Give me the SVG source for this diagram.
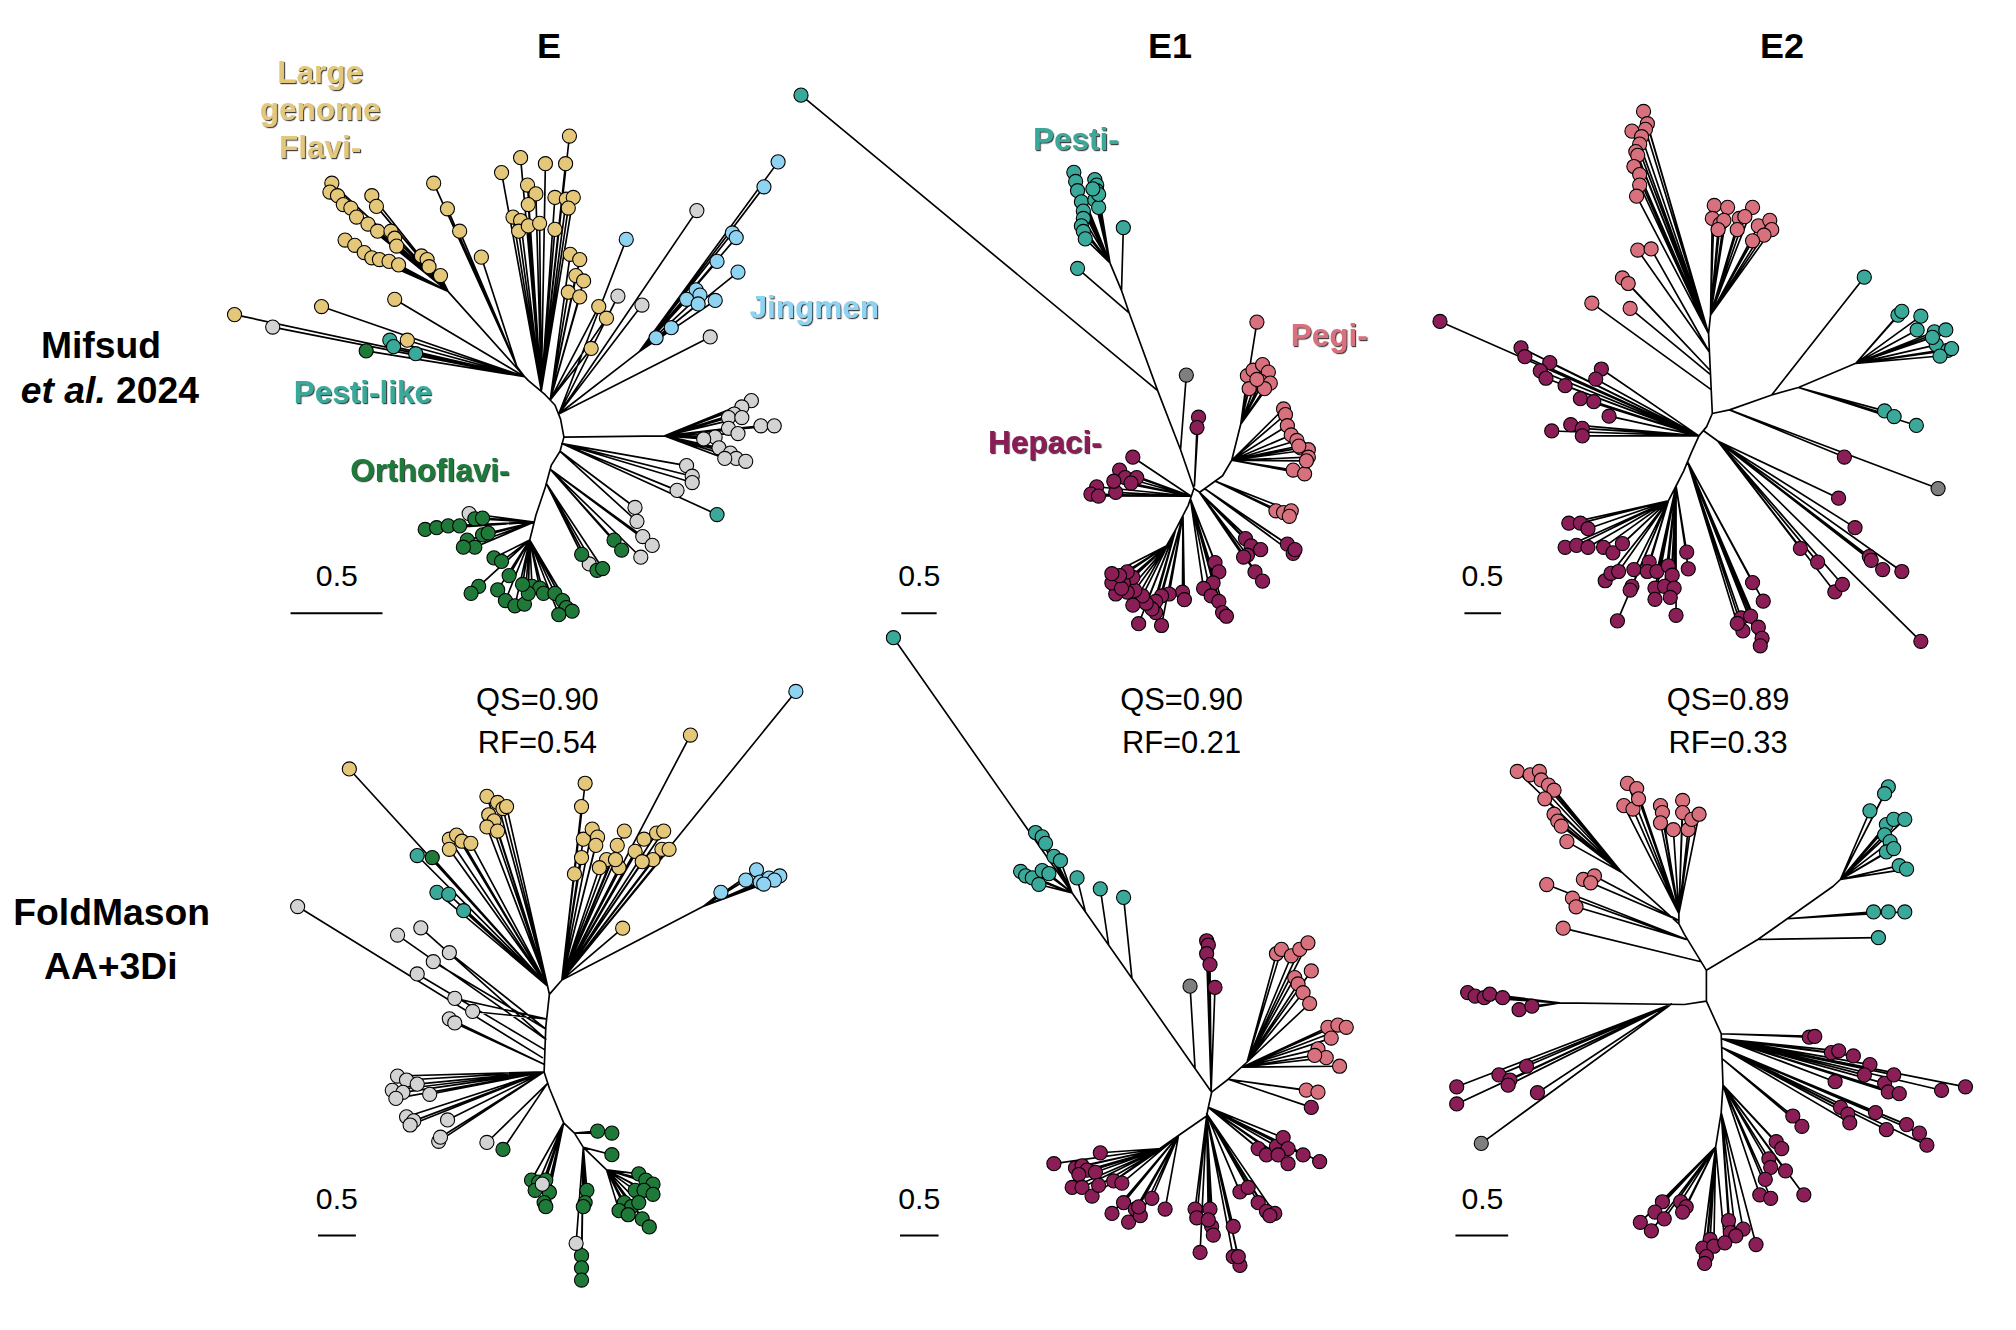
<svg xmlns="http://www.w3.org/2000/svg" width="2016" height="1330" viewBox="0 0 2016 1330">
<style>
.b{fill:none;stroke:#000;stroke-width:1.3;stroke-linecap:round;stroke-linejoin:round}
circle{stroke:#000;stroke-width:0.85}
.a{fill:#E5C77A}.u{fill:#8ED3F2}.g{fill:#D3D3D3}.t{fill:#3BA99A}.d{fill:#1F7A3A}.p{fill:#D8707D}.m{fill:#8B1E57}.k{fill:#7F7F7F}
text{font-family:"Liberation Sans",Arial,Helvetica,sans-serif}
.ttl{font-size:28px;font-weight:bold;text-anchor:middle}
.row{font-size:29px;font-weight:bold;text-anchor:middle}
.lab{font-size:24.5px;font-weight:bold;filter:url(#sh)}
.num{font-size:24px;text-anchor:middle}
.sc{font-size:23.5px;text-anchor:middle}
.bar{stroke:#000;stroke-width:1.5}
</style>
<defs>
<filter id="sh" x="-5%" y="-10%" width="115%" height="130%"><feDropShadow dx="0.9" dy="0.9" stdDeviation="0.35" flood-color="#1a1a1a" flood-opacity="0.85"/></filter>
</defs>
<rect width="2016" height="1330" fill="#fff"/>
<g transform="scale(1.285714)">
<g id="titles">
<text class="ttl" x="427" y="45.5">E</text>
<text class="ttl" x="910" y="45.5">E1</text>
<text class="ttl" x="1386" y="45.5">E2</text>
<text class="row" x="78.5" y="278.5">Mifsud</text>
<text class="row" x="85.5" y="313.6"><tspan font-style="italic">et al.</tspan> 2024</text>
<text class="row" x="86.8" y="719.5">FoldMason</text>
<text class="row" x="86.2" y="761.7">AA+3Di</text>
</g>
<g id="connectors">
<path id="br-tl" class="b" d="M411,296L424,307L431.6,315L436,326L438.6,340L435.6,351L428.7,362L424.2,378.7L416.8,400.8L413.8,413L412,420M402,285L408,293L411,296M348.6,226.8L408,293M434.6,322L497,273.7M438.6,340L517,339
M408,293L182.4,244.7M408,293L212.1,254.4M408,293L250.1,238.4M408,293L307,232.8M408,293L284.8,272.9M408,293L303.2,264.6M408,293L306.1,269.6M408,293L316.8,264.6M408,293L323.3,275.1
M348.6,226.8L258.1,142.5M348.6,226.8L256.6,149.4M348.6,226.8L262.5,152.2M348.6,226.8L267,159.1M348.6,226.8L272.9,161.8M348.6,226.8L277.3,168.8M348.6,226.8L286.2,174.3M348.6,226.8L293.7,179.8M348.6,226.8L304.1,179.8M348.6,226.8L307,185.3M348.6,226.8L308.5,191.4M348.6,226.8L268.4,186.7M348.6,226.8L275.9,190.8M348.6,226.8L283.3,196.4M348.6,226.8L289.2,200.5M348.6,226.8L295.1,201.9M348.6,226.8L302.6,203.3M348.6,226.8L310,206M348.6,226.8L289.2,152.2M348.6,226.8L292.8,160.5M348.6,226.8L327.8,199.1M348.6,226.8L332.2,201.9M348.6,226.8L333.7,207.4M348.6,226.8L342.6,214.3
M402,285L337.3,142.5M402,285L348,162.4M402,285L357.5,179.8M402,285L374.4,200
M421,304L390.1,134.2M421,304L404.9,122.6M421,304L410.3,143.9M421,304L416.8,150.8M421,304L410.9,159.1M421,304L399,168.8M421,304L404.9,171.5M421,304L403.4,179.8M421,304L410.9,175.7M421,304L419.7,173.7M421,304L431.6,178.4M421,304L424.2,127.3M421,304L439.9,127.3M421,304L442.9,105.8M421,304L431.6,153.6M421,304L440.5,154.9M421,304L445.9,153.6M421,304L442,161.8
M428,311L443.5,197.8M428,311L450.9,201.9M428,311L447.9,214.3M428,311L453.9,218.5M428,311L442,227.3M428,311L450.9,230.9M428,311L465.7,238.4M428,311L471.7,247.5M428,311L459.8,271
M434.6,322L480.6,230.3M434.6,322L499.3,237.3M434.6,322L542,163.8M434.6,322L552.4,262.1M434.6,322L487.1,186.2
M497,273.7L605.2,125.9M497,273.7L594.2,145.3M497,273.7L569.6,181.2M497,273.7L572.6,184.8M497,273.7L557.7,203.3M497,273.7L574,211.6M497,273.7L541.4,225.4M497,273.7L544.4,229.5M497,273.7L534,232.8M497,273.7L543,236.4M497,273.7L556.3,233.7M497,273.7L522.1,254.9M497,273.7L510.3,262.7
M517,339L584.4,311.6M517,339L577,316.5M517,339L571.1,322M517,339L566.6,324.8M517,339L577,324.8M517,339L591.8,331.2M517,339L602.2,331.2M517,339L566.6,333.1M517,339L574,337.2M517,339L556.2,340M517,339L547.3,341.4M517,339L559.2,348.3M517,339L568.1,352.4M517,339L572.6,356.6M517,339L580,358.8M517,339L563.7,356.6
M437,345L534,362.1M437,345L538.4,370.4M437,345L538.4,375.3M437,345L526.6,381.4M437,345L557.7,400.2
M435.6,351L493.9,394.7M435.6,351L495.4,405.5M427.9,365L499.9,417.3M427.9,365L507.3,424.2M427.9,365L498.4,433.4M427.9,365L477.6,420.1M427.9,365L483.5,427.8M424.9,376L458.3,438.6M424.9,376L464.3,443.6M424.9,376L468.7,442.2M424.9,376L452.4,431.1
M415.5,406L364.9,399.4M415.5,406L330.7,411.8M415.5,406L339.6,410.4M415.5,406L348.6,409M415.5,406L357.5,409M415.5,406L369.3,403.5M415.5,406L375.3,403M415.5,406L363.4,420.1M415.5,406L369.3,425.6M415.5,406L375.3,416M415.5,406L379.7,414.6M415.5,406L360.4,425.6
M412,420L384.2,433.9M412,420L390.1,436.7M412,420L396,447.7M412,420L372.3,456M412,420L366.4,461.5M412,420L387.1,458.8M412,420L393.1,467.1M412,420L400.5,471.2M412,420L407.9,469.8M412,420L413.8,456M412,420L419.8,457.4M412,420L422.7,461.5M412,420L431.6,461.5M412,420L437.6,467.1M412,420L440.5,472.6M412,420L445,475.4M412,420L434.6,478.1M412,420L410.9,461.5M412,420L406.4,454.6"/>
<path id="br-tm" class="b" d="M623,74L900.4,303.8M928.6,380L918.2,349.8L900.4,303.8L878.2,243.3L872.3,226L863.3,204.5M878.2,243.3L838.1,208.8M872.3,226L873.7,177.1M918.2,349.8L922.7,291.7M929,378L932.2,324.5M929,378L931,332.5M928.6,380L933.1,382.9L950.9,370L958,358L965,330M928.6,380L924.2,393L906.4,427.5
M863.3,204.5L835.2,134M863.3,204.5L836.6,141.1M863.3,204.5L838.1,148.3M863.3,204.5L841.1,157M863.3,204.5L842.6,164.2M863.3,204.5L842.6,169.9M863.3,204.5L841.1,175.7M863.3,204.5L842.6,180M863.3,204.5L844.1,185.8M863.3,204.5L851.5,139.7M863.3,204.5L853,144M863.3,204.5L853,148.3M863.3,204.5L851.5,155.5M863.3,204.5L854.5,161.3M863.3,204.5L854.5,151.2M863.3,204.5L850,146.9
M965,330L970.2,292.2M965,330L974.6,287.9M965,330L982,283.6M965,330L986.5,289.4M965,330L980.5,296.6M965,330L988,298M965,330L983.5,302.3M965,330L971.6,302.3M965,330L977.6,295.1M965,330L977.6,250.5
M958,358L998.3,318.1M958,358L999.8,322.5M958,358L1001.3,331.1M958,358L1004.3,338.3M958,358L1008.7,342.6M958,358L1011.7,348.4M958,358L1017.6,349.8M958,358L1017.6,355.6M958,358L1005.8,365.6M958,358L1014.7,368.5M958,358L1010.2,346.9M958,358L1016.1,358.4
M945,374.2L992.4,397.3M945,374.2L998.3,398.7M945,374.2L1004.3,397.3M945,374.2L1002.8,401.6
M937,380.1L1001.3,423.2M937,380.1L1005.8,430.4M937,380.1L1007.2,427.5
M933,383L968.7,418.9M933,383L973.1,424.6M933,383L970.2,431.8M933,383L980.5,427.5M933,383L976.1,444.8M933,383L982,452M933,383L967.2,433.3
M925.9,388L945,437.6M925.9,388L948,444.8M925.9,388L943.5,453.4M925.9,388L936.1,457.7M925.9,388L942,463.5M925.9,388L948,467.8M925.9,388L950.9,476.4M925.9,388L953.9,479.3
M920.1,401L919.7,460.6M920.1,401L921.2,466.4M920.1,401L909.3,462M920.1,401L903.4,463.5M920.1,401L903.4,486.5M920.1,401L898.9,476.4
M914.4,412L898.9,467.8M914.4,412L896,473.6M914.4,412L891.5,469.2M914.4,412L888.6,463.5M914.4,412L885.6,485.1M914.4,412L881.1,470.7
M908.2,424L882.6,459.2M908.2,424L876.7,460.6M908.2,424L867.8,462M908.2,424L881.1,449.1M908.2,424L873.7,453.4M908.2,424L864.8,453.4M908.2,424L872.3,457.7M908.2,424L876.7,444.8M908.2,424L870.8,447.7M908.2,424L864.8,446.2
M926.5,386L881.1,355.6M926.5,386L870.8,365.6M926.5,386L875.2,371.4M926.5,386L884.1,371.4M926.5,386L879.7,375.7M926.5,386L853,378.6M926.5,386L848.5,384.3M926.5,386L854.4,385.8M926.5,386L867.8,382.9M926.5,386L866.3,374.3"/>
<path id="br-tr" class="b" d="M1330.4,245.1L1328.9,259.5L1330.4,291.3L1331.8,321.6L1327.4,331.8L1321.4,339L1315.5,352L1309.5,366.4L1303.6,378L1297.6,389.6M1331.8,321.6L1345.2,318.8L1378,307.2L1398.8,301.4L1443.4,282.6M1325,335L1336,343
M1328.9,259.5L1278.3,86.7M1328.9,259.5L1281.3,96.2M1328.9,259.5L1279.8,100.6M1328.9,259.5L1269.3,102M1328.9,259.5L1276.8,106.3M1328.9,259.5L1275.3,112.1M1328.9,259.5L1272.3,117.9M1328.9,259.5L1273.8,120.8M1328.9,259.5L1270.8,129.5M1328.9,259.5L1275.3,135.8M1328.9,259.5L1275.3,143.9M1328.9,259.5L1272.9,152.6
M1330.4,245.1L1333.3,159.8M1330.4,245.1L1343.7,161.3M1330.4,245.1L1331.8,169.9M1330.4,245.1L1337.8,174.3M1330.4,245.1L1340.8,171.4M1330.4,245.1L1352.7,169.9M1330.4,245.1L1363.1,161.3M1330.4,245.1L1357.1,168.5M1330.4,245.1L1351.2,178.6M1330.4,245.1L1367.6,175.7M1330.4,245.1L1376.5,171.4M1330.4,245.1L1378,178.6M1330.4,245.1L1372,182.9M1330.4,245.1L1363.1,187.3M1330.4,245.1L1336.3,178.6
M1329.6,274L1273.8,194.5M1329.6,274L1284.2,193.6M1330,288L1261.9,216.2M1330,288L1266.4,220.5M1330.9,303L1238.1,235.8M1330.4,291.3L1267.9,239.9
M1321.4,339L1120,250M1321.4,339L1183,270.5M1321.4,339L1186,277.4M1321.4,339L1205.4,282M1321.4,339L1198,288.4M1321.4,339L1202.4,294.2M1321.4,339L1217.3,300M1321.4,339L1229.2,310.1M1321.4,339L1239.6,312.4M1321.4,339L1245.5,287M1321.4,339L1241.1,294.8M1321.4,339L1251.5,323.7M1321.4,339L1206.9,335.2M1321.4,339L1221.7,330.3M1321.4,339L1230.7,333.2M1321.4,339L1230.7,339
M1378,307.2L1450,215.6M1443.4,282.6L1476.2,245.1M1443.4,282.6L1479.2,242.2M1443.4,282.6L1494,245.9M1443.4,282.6L1491.1,256.6M1443.4,282.6L1504.5,258.1M1443.4,282.6L1513.4,256.6M1443.4,282.6L1506,268.2M1443.4,282.6L1514.9,272.5M1443.4,282.6L1508.9,276.9M1443.4,282.6L1517.9,271.1M1443.4,282.6L1503,262.4M1398.8,301.4L1465.8,319.6M1398.8,301.4L1473.2,324M1398.8,301.4L1490.5,330.9
M1345.2,318.8L1434.5,355.5M1345.2,318.8L1507.4,380
M1336,343L1430,387.5M1336,343L1442.8,410.4M1336,343L1400.3,426.6M1336,343L1413.7,437.2M1336,343L1427.1,460.4M1336,343L1433,454.6M1336,343L1453.9,432.9M1336,343L1464.3,443M1336,343L1479.2,444.5M1336,343L1455.4,435.8M1336,343L1494,498.8
M1312.5,359L1363.1,453.1M1312.5,359L1371.4,467.6M1312.5,359L1354.2,480.6M1312.5,359L1361.6,479.2M1312.5,359L1355.6,490.7M1312.5,359L1367.6,487.8M1312.5,359L1370.5,496.5M1312.5,359L1369.1,502.3M1312.5,359L1351.2,484.9
M1297.6,389.6L1220.2,406.9M1297.6,389.6L1229.2,406.9M1297.6,389.6L1235.1,411.2M1297.6,389.6L1217.3,425.7M1297.6,389.6L1226.2,424.2M1297.6,389.6L1235.1,425.7M1297.6,389.6L1247.2,425.7M1297.6,389.6L1254.5,430M1297.6,389.6L1261.9,422.8M1297.6,389.6L1248.5,451.7M1297.6,389.6L1253,445.9M1297.6,389.6L1258.9,444.5M1297.6,389.6L1270.8,443M1297.6,389.6L1269.3,456M1297.6,389.6L1258,482.9M1297.6,389.6L1267.9,458.9M1297.6,389.6L1282.7,437.2M1297.6,389.6L1281.2,444.5
M1303.6,378L1288.7,444.5M1303.6,378L1297.6,440.1M1303.6,378L1300.6,447.4M1303.6,378L1287.2,457.5M1303.6,378L1294.6,456M1303.6,378L1302.1,457.5M1303.6,378L1287.2,466.1M1303.6,378L1299.1,464.7M1303.6,378L1311.9,429.4M1303.6,378L1313.1,442.4M1303.6,378L1303.6,478.6"/>
<path id="br-bl" class="b" d="M425.9,767L427.3,773.4L437,762.2M427.3,773.4L424.5,798.8L423.2,833.7L427.3,846.4L438.4,873.4L446.8,881.3L453.7,892.4L471.8,909.9M437,762.2L546.8,705.1
M425.9,767L271.7,598.1M425.9,767L378.7,619.4M425.9,767L387,624.1M425.9,767L391.2,628.9M425.9,767L380.1,633.7M425.9,767L384.3,638.4M425.9,767L378.7,643.2M425.9,767L387,646.4M425.9,767L394,627.3M425.9,767L349.5,652.7M425.9,767L355.1,649.5M425.9,767L359.3,654.3M425.9,767L366.2,655.9M425.9,767L349.5,660.6M425.9,767L324.5,665.4M425.9,767L336.2,667M425.9,767L339.8,694M425.9,767L349,695.6M425.9,767L360.6,708.3
M437,762.2L537,571.7M437,762.2L619,537.8M437,762.2L455.1,609.2M437,762.2L452.3,627.3M437,762.2L446.8,679.7M437,762.2L452.3,667M437,762.2L453.7,652.7M437,762.2L460.6,644.8M437,762.2L464.8,651.1M437,762.2L463.4,657.5M437,762.2L471.8,668.6M437,762.2L480.1,657.5M437,762.2L485.6,646.4M437,762.2L481.5,674.9M437,762.2L466.2,674.9M437,762.2L478.7,668.6M437,762.2L494,662.2M437,762.2L500.9,652.7M437,762.2L510.7,647.9M437,762.2L516.2,646.4M437,762.2L514.8,660.6M437,762.2L520.4,660.6M437,762.2L507.9,668.6M437,762.2L499.5,670.2M437,762.2L484.3,721.9
M546.8,705.1L560.7,694M546.8,705.1L580.1,684.5M546.8,705.1L588.4,676.5M546.8,705.1L591.2,686M546.8,705.1L598.2,682.9M546.8,705.1L606.5,681.3M546.8,705.1L602.3,684.5M546.8,705.1L594,687.6
M421.8,822.6L231.5,705.1M424.5,808.3L309.2,727.3M424.5,808.3L327.3,721.6M424.5,800.3L337,748M424.5,800.3L349.5,741M423.2,816.2L324.5,757.5M424.5,792.4L353.7,776.5M424.5,792.4L367.6,786.7M423.5,828L349.5,792.4M423.5,828L353.7,795.6
M423.2,833.7L309.2,836.9M423.2,833.7L316.2,840M423.2,833.7L324.5,843.2M423.2,833.7L305.1,848M423.2,833.7L313.4,849.6M423.2,833.7L307.9,854.3M423.2,833.7L334.2,851.1M423.2,833.7L316.2,868.6M423.2,833.7L321.8,871.8M423.2,833.7L319,875M423.2,833.7L348.1,871.1M423.2,833.7L341.2,887.7M423.2,833.7L342.6,884.5M425.5,843L378.7,888.6M425.5,843L391.2,894
M446.8,881.3L464.8,879.7M446.8,881.3L475.9,881.3M453.7,892.4L475.9,898.1M453.7,892.4L456.5,925.8M453.7,892.4L455.1,935.3M453.7,892.4L453.7,938.5M453.7,892.4L448.1,967M453.7,892.4L452.3,976.6M453.7,892.4L452.3,986.1M453.7,892.4L452.3,995.6
M471.8,909.9L496.8,913M471.8,909.9L502.3,917.8M471.8,909.9L507.9,921M471.8,909.9L494,925.8M471.8,909.9L500.9,925.8M471.8,909.9L507.9,928.9M471.8,909.9L485.6,935.3M471.8,909.9L491.2,938.5M471.8,909.9L481.5,941.6M471.8,909.9L488.6,944.8M471.8,909.9L499.5,948M471.8,909.9L505,954.3M471.8,909.9L496.8,935.3
M438.4,873.4L413.4,917.8M438.4,873.4L419,919.4M438.4,873.4L424.5,917.8M438.4,873.4L427.3,927.3M438.4,873.4L423.2,935.3M438.4,873.4L424.5,938.5M438.4,873.4L416.2,925.8M438.4,873.4L421.8,921"/>
<path id="br-bm" class="b" d="M694.9,496L942.4,849.5M942.4,849.5L955.3,839.4L970,826M942.4,849.5L939.8,861.3L938.5,868L916.6,883.2L903.6,893.3
M833.9,694.5L805.4,647.5M833.9,694.5L810.6,650.9M833.9,694.5L813.2,655.9M833.9,694.5L819.7,666M833.9,694.5L824.8,669.4M833.9,694.5L793.8,677.8M833.9,694.5L797.7,681.2M833.9,694.5L802.9,682.8M833.9,694.5L808,687.9M833.9,694.5L810.6,677.1M833.9,694.5L815.8,679.5M844.2,709.2L837.7,682.8M862.3,735L855.8,691.3M880.4,760.9L873.9,698
M929.5,831L925.6,767M942,849L938.5,731.7M942,849L939.8,735M942,849L938.5,741.8M942,849L941.1,750.2M942,849L945,768
M970,826L992.8,741.8M970,826L996.7,738.4M970,826L1004.4,743.4M970,826L1010.9,738.4M970,826L1017.3,733.3M970,826L1019.9,755.2M970,826L1007,760.3M970,826L1009.6,765.3M970,826L1013.5,772.1M970,826L1018.6,780.5
M966,830L1032.8,799M966,830L1040.6,797.3M966,830L1047.1,799M966,830L1035.4,807.4M966,830L1025.1,815.8M966,830L1031.5,822.6M966,830L1022.5,820.9M966,830L1041.9,829.3
M955.3,839.4L1016,847.8M955.3,839.4L1025.1,849.5M955.3,839.4L1019.9,861.3
M939.8,861.3L978.6,893.3M939.8,861.3L985,898.3M939.8,861.3L992.8,891.6M939.8,861.3L998,884.8M939.8,861.3L1001.8,893.3M939.8,861.3L994.1,898.3M939.8,861.3L1001.8,905.1M939.8,861.3L1013.5,898.3M939.8,861.3L1026.4,903.4
M938.5,866.3L964.4,927M938.5,866.3L970.8,923.6M938.5,866.3L978.6,935.4M938.5,866.3L985,942.1M938.5,866.3L991.5,943.8M938.5,866.3L987.7,945.5
M938.5,868L959.2,953.9M938.5,868L959.2,977.4M938.5,868L964.4,984.2M938.5,868L963.1,977.4M938.5,868L929.5,940.4M938.5,868L941.1,940.4M938.5,868L942.4,953.9M938.5,868L943.7,960.6M938.5,868L933.4,974.1M938.5,868L930.8,947.2M938.5,868L939.8,948.8
M916.6,883.2L866.2,918.5M916.6,883.2L872.6,920.2M916.6,883.2L864.9,943.8M916.6,883.2L873.9,935.4M916.6,883.2L877.8,950.5M916.6,883.2L883,940.4M916.6,883.2L886.9,945.5M916.6,883.2L885.6,938.7M916.6,883.2L895.9,932M916.6,883.2L906.2,940.4
M903.6,893.3L819.7,905.1M903.6,893.3L836.5,908.4M903.6,893.3L841.6,906.7M903.6,893.3L845.5,910.1M903.6,893.3L852,911.8M903.6,893.3L839.1,913.5M903.6,893.3L833.9,923.6M903.6,893.3L841.6,923.6M903.6,893.3L849.4,930.3M903.6,893.3L854.5,921.9M903.6,893.3L855.8,896.6"/>
<path id="br-br" class="b" d="M1305.8,710.6L1305.8,718.6L1310.1,726.7L1327.2,754.7L1327.2,778.7L1338.7,804L1340.1,844L1338.7,865.3L1334.4,892M1261.5,678.6L1305.8,718.6M1327.2,754.7L1367.2,730.7L1390.1,714.6L1425.8,689.3L1431.5,684M1327.2,778.7L1310.1,781.3L1213,780
M1261.5,678.6L1180.1,600M1261.5,678.6L1190.1,602.6M1261.5,678.6L1197.3,600M1261.5,678.6L1198.7,606.6M1261.5,678.6L1204.4,610.6M1261.5,678.6L1208.7,614.6M1261.5,678.6L1201.5,621.3M1261.5,678.6L1208.7,633.3M1261.5,678.6L1211.6,638.6M1261.5,678.6L1214.4,642.6M1261.5,678.6L1218.7,654.6
M1305.8,710.6L1265.8,609.3M1305.8,710.6L1273,613.3M1305.8,710.6L1263,626.6M1305.8,710.6L1270.1,629.3M1305.8,710.6L1274.4,621.3M1305.8,710.6L1291.5,626.6M1305.8,710.6L1293,632M1305.8,710.6L1291.5,640M1305.8,710.6L1301.5,645.3M1305.8,710.6L1308.7,622.6M1305.8,710.6L1308.7,632M1305.8,710.6L1313,645.3M1305.8,710.6L1315.8,637.3M1305.8,710.6L1321.5,633.3
M1305.8,716L1231.5,684M1305.8,716L1240.1,681.3M1305.8,716L1237.2,686.6M1311.5,730.6L1203,688M1311.5,730.6L1223,698.6M1311.5,730.6L1225.8,705.3M1323,748L1215.8,721.9
M1431.5,684L1468.7,612M1431.5,684L1465.8,617.3M1431.5,684L1454.4,630.6M1431.5,684L1467.2,641.3M1431.5,684L1472.9,637.3M1431.5,684L1481.5,637.3M1431.5,684L1465.8,649.3M1431.5,684L1470.1,654.6M1431.5,684L1467.2,662.6M1431.5,684L1472.9,660M1431.5,684L1477.2,673.3M1431.5,684L1482.9,676
M1390.1,714.6L1457.2,709.3M1390.1,714.6L1468.7,709.3M1390.1,714.6L1481.5,709.3M1367.2,730.7L1461,729.3
M1213,780L1141.5,772M1213,780L1147.3,774.7M1213,780L1154.4,776M1213,780L1158.7,773.3M1213,780L1168.7,776M1213,780L1181.5,785.3M1213,780L1191.5,782.6
M1300,781L1133,845.3M1300,781L1133,858.6M1300,781L1165.8,836M1300,781L1174.4,840M1300,781L1187.3,829.3M1300,781L1173,844M1300,781L1195.8,849.9M1300,781L1152.1,889.3
M1338.7,804L1407.2,806.7M1338.7,804L1411.5,806.1
M1339.5,808L1424.4,818.7M1339.5,808L1430.1,817.3M1339.5,808L1441.5,821.3M1339.5,808L1454.4,828M1339.5,808L1450.1,836M1339.5,808L1465.8,842.6M1339.5,808L1468.7,849.3M1339.5,808L1477.2,850.6M1339.5,808L1473,836M1339.5,808L1510.1,848M1339.5,808L1528.7,845.3M1339.5,808L1427.3,841.3
M1339.6,815L1431.5,861.3M1339.6,815L1437.2,866.6M1339.6,815L1438.7,873.3M1339.6,815L1458.7,865.3M1339.6,815L1467.2,878.6M1339.6,815L1482.9,874.7M1339.6,815L1492.9,881.3M1339.6,815L1498.7,890.7
M1340.1,824L1394.4,868M1340.1,824L1401.5,876
M1340.1,844L1381.5,888M1340.1,844L1385.8,893.3M1340.1,844L1375.8,901.3M1340.1,844L1377.2,908M1340.1,844L1388.7,910.6M1340.1,844L1403,929.3M1340.1,844L1373,917.3M1340.1,844L1368.7,929.3M1340.1,844L1377.2,932
M1338.7,865.3L1344.4,949.3M1338.7,865.3L1355.8,956M1338.7,865.3L1345.8,958.7M1338.7,865.3L1365.8,968M1338.7,865.3L1350.1,961.3
M1334.4,892L1330.1,964M1334.4,892L1324.4,970.7M1334.4,892L1333,969.3M1334.4,892L1341.5,966.6M1334.4,892L1327.2,977.3M1334.4,892L1325.8,982.7
M1334.4,892L1275.8,950.7M1334.4,892L1284.4,957.3M1334.4,892L1293,934.7M1334.4,892L1287.2,942.7M1334.4,892L1294.4,948M1334.4,892L1307.2,934.7M1334.4,892L1311.5,938.6M1334.4,892L1308.7,942.7"/>
</g>
<g id="tree-E-mifsud">
<g class="a"><circle cx="182.4" cy="244.7" r="5.5"/><circle cx="250.1" cy="238.4" r="5.5"/><circle cx="307" cy="232.8" r="5.5"/><circle cx="316.8" cy="264.6" r="5.5"/></g>
<circle class="g" cx="212.1" cy="254.4" r="5.5"/>
<circle class="d" cx="284.8" cy="272.9" r="5.5"/>
<g class="t"><circle cx="303.2" cy="264.6" r="5.5"/><circle cx="306.1" cy="269.6" r="5.5"/><circle cx="323.3" cy="275.1" r="5.5"/></g>
<g class="a">
<circle cx="258.1" cy="142.5" r="5.5"/><circle cx="256.6" cy="149.4" r="5.5"/><circle cx="262.5" cy="152.2" r="5.5"/><circle cx="267" cy="159.1" r="5.5"/><circle cx="272.9" cy="161.8" r="5.5"/><circle cx="277.3" cy="168.8" r="5.5"/><circle cx="286.2" cy="174.3" r="5.5"/><circle cx="293.7" cy="179.8" r="5.5"/><circle cx="304.1" cy="179.8" r="5.5"/><circle cx="307" cy="185.3" r="5.5"/><circle cx="308.5" cy="191.4" r="5.5"/><circle cx="268.4" cy="186.7" r="5.5"/><circle cx="275.9" cy="190.8" r="5.5"/><circle cx="283.3" cy="196.4" r="5.5"/><circle cx="289.2" cy="200.5" r="5.5"/><circle cx="295.1" cy="201.9" r="5.5"/><circle cx="302.6" cy="203.3" r="5.5"/><circle cx="310" cy="206" r="5.5"/><circle cx="289.2" cy="152.2" r="5.5"/><circle cx="292.8" cy="160.5" r="5.5"/><circle cx="327.8" cy="199.1" r="5.5"/><circle cx="332.2" cy="201.9" r="5.5"/><circle cx="333.7" cy="207.4" r="5.5"/><circle cx="342.6" cy="214.3" r="5.5"/>
<circle cx="337.3" cy="142.5" r="5.5"/><circle cx="348" cy="162.4" r="5.5"/><circle cx="357.5" cy="179.8" r="5.5"/><circle cx="374.4" cy="200" r="5.5"/>
<circle cx="390.1" cy="134.2" r="5.5"/><circle cx="404.9" cy="122.6" r="5.5"/><circle cx="410.3" cy="143.9" r="5.5"/><circle cx="416.8" cy="150.8" r="5.5"/><circle cx="410.9" cy="159.1" r="5.5"/><circle cx="399" cy="168.8" r="5.5"/><circle cx="404.9" cy="171.5" r="5.5"/><circle cx="403.4" cy="179.8" r="5.5"/><circle cx="410.9" cy="175.7" r="5.5"/><circle cx="419.7" cy="173.7" r="5.5"/><circle cx="431.6" cy="178.4" r="5.5"/><circle cx="424.2" cy="127.3" r="5.5"/><circle cx="439.9" cy="127.3" r="5.5"/><circle cx="442.9" cy="105.8" r="5.5"/><circle cx="431.6" cy="153.6" r="5.5"/><circle cx="440.5" cy="154.9" r="5.5"/><circle cx="445.9" cy="153.6" r="5.5"/><circle cx="442" cy="161.8" r="5.5"/>
<circle cx="443.5" cy="197.8" r="5.5"/><circle cx="450.9" cy="201.9" r="5.5"/><circle cx="447.9" cy="214.3" r="5.5"/><circle cx="453.9" cy="218.5" r="5.5"/><circle cx="442" cy="227.3" r="5.5"/><circle cx="450.9" cy="230.9" r="5.5"/><circle cx="465.7" cy="238.4" r="5.5"/><circle cx="471.7" cy="247.5" r="5.5"/><circle cx="459.8" cy="271" r="5.5"/>
</g>
<g class="g"><circle cx="480.6" cy="230.3" r="5.5"/><circle cx="499.3" cy="237.3" r="5.5"/><circle cx="542" cy="163.8" r="5.5"/><circle cx="552.4" cy="262.1" r="5.5"/></g>
<g class="u"><circle cx="487.1" cy="186.2" r="5.5"/><circle cx="605.2" cy="125.9" r="5.5"/><circle cx="594.2" cy="145.3" r="5.5"/><circle cx="569.6" cy="181.2" r="5.5"/><circle cx="572.6" cy="184.8" r="5.5"/><circle cx="557.7" cy="203.3" r="5.5"/><circle cx="574" cy="211.6" r="5.5"/><circle cx="541.4" cy="225.4" r="5.5"/><circle cx="544.4" cy="229.5" r="5.5"/><circle cx="534" cy="232.8" r="5.5"/><circle cx="543" cy="236.4" r="5.5"/><circle cx="556.3" cy="233.7" r="5.5"/><circle cx="522.1" cy="254.9" r="5.5"/><circle cx="510.3" cy="262.7" r="5.5"/></g>
<g class="g"><circle cx="584.4" cy="311.6" r="5.5"/><circle cx="577" cy="316.5" r="5.5"/><circle cx="571.1" cy="322" r="5.5"/><circle cx="566.6" cy="324.8" r="5.5"/><circle cx="577" cy="324.8" r="5.5"/><circle cx="591.8" cy="331.2" r="5.5"/><circle cx="602.2" cy="331.2" r="5.5"/><circle cx="566.6" cy="333.1" r="5.5"/><circle cx="574" cy="337.2" r="5.5"/><circle cx="556.2" cy="340" r="5.5"/><circle cx="547.3" cy="341.4" r="5.5"/><circle cx="559.2" cy="348.3" r="5.5"/><circle cx="568.1" cy="352.4" r="5.5"/><circle cx="572.6" cy="356.6" r="5.5"/><circle cx="580" cy="358.8" r="5.5"/><circle cx="563.7" cy="356.6" r="5.5"/>
<circle cx="534" cy="362.1" r="5.5"/><circle cx="538.4" cy="370.4" r="5.5"/><circle cx="538.4" cy="375.3" r="5.5"/><circle cx="526.6" cy="381.4" r="5.5"/>
<circle cx="493.9" cy="394.7" r="5.5"/><circle cx="495.4" cy="405.5" r="5.5"/><circle cx="499.9" cy="417.3" r="5.5"/><circle cx="507.3" cy="424.2" r="5.5"/><circle cx="498.4" cy="433.4" r="5.5"/><circle cx="458.3" cy="438.6" r="5.5"/><circle cx="364.9" cy="399.4" r="5.5"/></g>
<circle class="t" cx="557.7" cy="400.2" r="5.5"/>
<g class="d"><circle cx="477.6" cy="420.1" r="5.5"/><circle cx="483.5" cy="427.8" r="5.5"/><circle cx="464.3" cy="443.6" r="5.5"/><circle cx="468.7" cy="442.2" r="5.5"/><circle cx="452.4" cy="431.1" r="5.5"/>
<circle cx="330.7" cy="411.8" r="5.5"/><circle cx="339.6" cy="410.4" r="5.5"/><circle cx="348.6" cy="409" r="5.5"/><circle cx="357.5" cy="409" r="5.5"/><circle cx="369.3" cy="403.5" r="5.5"/><circle cx="375.3" cy="403" r="5.5"/><circle cx="363.4" cy="420.1" r="5.5"/><circle cx="369.3" cy="425.6" r="5.5"/><circle cx="375.3" cy="416" r="5.5"/><circle cx="379.7" cy="414.6" r="5.5"/><circle cx="360.4" cy="425.6" r="5.5"/>
<circle cx="384.2" cy="433.9" r="5.5"/><circle cx="390.1" cy="436.7" r="5.5"/><circle cx="396" cy="447.7" r="5.5"/><circle cx="372.3" cy="456" r="5.5"/><circle cx="366.4" cy="461.5" r="5.5"/><circle cx="387.1" cy="458.8" r="5.5"/><circle cx="393.1" cy="467.1" r="5.5"/><circle cx="400.5" cy="471.2" r="5.5"/><circle cx="407.9" cy="469.8" r="5.5"/><circle cx="413.8" cy="456" r="5.5"/><circle cx="419.8" cy="457.4" r="5.5"/><circle cx="422.7" cy="461.5" r="5.5"/><circle cx="431.6" cy="461.5" r="5.5"/><circle cx="437.6" cy="467.1" r="5.5"/><circle cx="440.5" cy="472.6" r="5.5"/><circle cx="445" cy="475.4" r="5.5"/><circle cx="434.6" cy="478.1" r="5.5"/><circle cx="410.9" cy="461.5" r="5.5"/><circle cx="406.4" cy="454.6" r="5.5"/></g>
<text class="lab" x="249" y="64.8" fill="#E3C87C" text-anchor="middle">Large</text>
<text class="lab" x="249" y="93.3" fill="#E3C87C" text-anchor="middle">genome</text>
<text class="lab" x="249" y="123" fill="#E3C87C" text-anchor="middle">Flavi-</text>
<text class="lab" x="583" y="247" fill="#8ED3F2">Jingmen</text>
<text class="lab" x="228.5" y="313.5" fill="#3BA99A">Pesti-like</text>
<text class="lab" x="272.5" y="374.5" fill="#1F7A3A">Orthoflavi-</text>
</g>
<g id="tree-E1-mifsud">
<circle class="t" cx="623" cy="74" r="5.5"/>
<g class="t"><circle cx="838.1" cy="208.8" r="5.5"/><circle cx="873.7" cy="177.1" r="5.5"/><circle cx="835.2" cy="134" r="5.5"/><circle cx="836.6" cy="141.1" r="5.5"/><circle cx="838.1" cy="148.3" r="5.5"/><circle cx="841.1" cy="157" r="5.5"/><circle cx="842.6" cy="164.2" r="5.5"/><circle cx="842.6" cy="169.9" r="5.5"/><circle cx="841.1" cy="175.7" r="5.5"/><circle cx="842.6" cy="180" r="5.5"/><circle cx="844.1" cy="185.8" r="5.5"/><circle cx="851.5" cy="139.7" r="5.5"/><circle cx="853" cy="144" r="5.5"/><circle cx="853" cy="148.3" r="5.5"/><circle cx="851.5" cy="155.5" r="5.5"/><circle cx="854.5" cy="161.3" r="5.5"/><circle cx="854.5" cy="151.2" r="5.5"/><circle cx="850" cy="146.9" r="5.5"/></g>
<circle class="k" cx="922.7" cy="291.7" r="5.5"/>
<g class="p"><circle cx="977.6" cy="250.5" r="5.5"/><circle cx="970.2" cy="292.2" r="5.5"/><circle cx="974.6" cy="287.9" r="5.5"/><circle cx="982" cy="283.6" r="5.5"/><circle cx="986.5" cy="289.4" r="5.5"/><circle cx="980.5" cy="296.6" r="5.5"/><circle cx="988" cy="298" r="5.5"/><circle cx="983.5" cy="302.3" r="5.5"/><circle cx="971.6" cy="302.3" r="5.5"/><circle cx="977.6" cy="295.1" r="5.5"/>
<circle cx="998.3" cy="318.1" r="5.5"/><circle cx="999.8" cy="322.5" r="5.5"/><circle cx="1001.3" cy="331.1" r="5.5"/><circle cx="1004.3" cy="338.3" r="5.5"/><circle cx="1008.7" cy="342.6" r="5.5"/><circle cx="1011.7" cy="348.4" r="5.5"/><circle cx="1017.6" cy="349.8" r="5.5"/><circle cx="1017.6" cy="355.6" r="5.5"/><circle cx="1005.8" cy="365.6" r="5.5"/><circle cx="1014.7" cy="368.5" r="5.5"/><circle cx="1010.2" cy="346.9" r="5.5"/><circle cx="1016.1" cy="358.4" r="5.5"/>
<circle cx="992.4" cy="397.3" r="5.5"/><circle cx="998.3" cy="398.7" r="5.5"/><circle cx="1004.3" cy="397.3" r="5.5"/><circle cx="1002.8" cy="401.6" r="5.5"/></g>
<g class="m"><circle cx="932.2" cy="324.5" r="5.5"/><circle cx="931" cy="332.5" r="5.5"/>
<circle cx="1001.3" cy="423.2" r="5.5"/><circle cx="1005.8" cy="430.4" r="5.5"/><circle cx="1007.2" cy="427.5" r="5.5"/>
<circle cx="968.7" cy="418.9" r="5.5"/><circle cx="973.1" cy="424.6" r="5.5"/><circle cx="970.2" cy="431.8" r="5.5"/><circle cx="980.5" cy="427.5" r="5.5"/><circle cx="976.1" cy="444.8" r="5.5"/><circle cx="982" cy="452" r="5.5"/><circle cx="967.2" cy="433.3" r="5.5"/>
<circle cx="945" cy="437.6" r="5.5"/><circle cx="948" cy="444.8" r="5.5"/><circle cx="943.5" cy="453.4" r="5.5"/><circle cx="936.1" cy="457.7" r="5.5"/><circle cx="942" cy="463.5" r="5.5"/><circle cx="948" cy="467.8" r="5.5"/><circle cx="950.9" cy="476.4" r="5.5"/><circle cx="953.9" cy="479.3" r="5.5"/>
<circle cx="919.7" cy="460.6" r="5.5"/><circle cx="921.2" cy="466.4" r="5.5"/><circle cx="909.3" cy="462" r="5.5"/><circle cx="903.4" cy="463.5" r="5.5"/><circle cx="903.4" cy="486.5" r="5.5"/><circle cx="898.9" cy="476.4" r="5.5"/>
<circle cx="898.9" cy="467.8" r="5.5"/><circle cx="896" cy="473.6" r="5.5"/><circle cx="891.5" cy="469.2" r="5.5"/><circle cx="888.6" cy="463.5" r="5.5"/><circle cx="885.6" cy="485.1" r="5.5"/><circle cx="881.1" cy="470.7" r="5.5"/>
<circle cx="882.6" cy="459.2" r="5.5"/><circle cx="876.7" cy="460.6" r="5.5"/><circle cx="867.8" cy="462" r="5.5"/><circle cx="881.1" cy="449.1" r="5.5"/><circle cx="873.7" cy="453.4" r="5.5"/><circle cx="864.8" cy="453.4" r="5.5"/><circle cx="872.3" cy="457.7" r="5.5"/><circle cx="876.7" cy="444.8" r="5.5"/><circle cx="870.8" cy="447.7" r="5.5"/><circle cx="864.8" cy="446.2" r="5.5"/>
<circle cx="881.1" cy="355.6" r="5.5"/><circle cx="870.8" cy="365.6" r="5.5"/><circle cx="875.2" cy="371.4" r="5.5"/><circle cx="884.1" cy="371.4" r="5.5"/><circle cx="879.7" cy="375.7" r="5.5"/><circle cx="853" cy="378.6" r="5.5"/><circle cx="848.5" cy="384.3" r="5.5"/><circle cx="854.4" cy="385.8" r="5.5"/><circle cx="867.8" cy="382.9" r="5.5"/><circle cx="866.3" cy="374.3" r="5.5"/></g>
<text class="lab" x="803.5" y="116.5" fill="#3BA99A">Pesti-</text>
<text class="lab" x="1004" y="269" fill="#D8707D">Pegi-</text>
<text class="lab" x="768.5" y="352" fill="#8B1E57">Hepaci-</text>
</g>
<g id="tree-E2-mifsud">
<g class="p"><circle cx="1278.3" cy="86.7" r="5.5"/><circle cx="1281.3" cy="96.2" r="5.5"/><circle cx="1279.8" cy="100.6" r="5.5"/><circle cx="1269.3" cy="102" r="5.5"/><circle cx="1276.8" cy="106.3" r="5.5"/><circle cx="1275.3" cy="112.1" r="5.5"/><circle cx="1272.3" cy="117.9" r="5.5"/><circle cx="1273.8" cy="120.8" r="5.5"/><circle cx="1270.8" cy="129.5" r="5.5"/><circle cx="1275.3" cy="135.8" r="5.5"/><circle cx="1275.3" cy="143.9" r="5.5"/><circle cx="1272.9" cy="152.6" r="5.5"/>
<circle cx="1333.3" cy="159.8" r="5.5"/><circle cx="1343.7" cy="161.3" r="5.5"/><circle cx="1331.8" cy="169.9" r="5.5"/><circle cx="1337.8" cy="174.3" r="5.5"/><circle cx="1340.8" cy="171.4" r="5.5"/><circle cx="1352.7" cy="169.9" r="5.5"/><circle cx="1363.1" cy="161.3" r="5.5"/><circle cx="1357.1" cy="168.5" r="5.5"/><circle cx="1351.2" cy="178.6" r="5.5"/><circle cx="1367.6" cy="175.7" r="5.5"/><circle cx="1376.5" cy="171.4" r="5.5"/><circle cx="1378" cy="178.6" r="5.5"/><circle cx="1372" cy="182.9" r="5.5"/><circle cx="1363.1" cy="187.3" r="5.5"/><circle cx="1336.3" cy="178.6" r="5.5"/>
<circle cx="1273.8" cy="194.5" r="5.5"/><circle cx="1284.2" cy="193.6" r="5.5"/><circle cx="1261.9" cy="216.2" r="5.5"/><circle cx="1266.4" cy="220.5" r="5.5"/><circle cx="1238.1" cy="235.8" r="5.5"/><circle cx="1267.9" cy="239.9" r="5.5"/></g>
<g class="m"><circle cx="1120" cy="250" r="5.5"/><circle cx="1183" cy="270.5" r="5.5"/><circle cx="1186" cy="277.4" r="5.5"/><circle cx="1205.4" cy="282" r="5.5"/><circle cx="1198" cy="288.4" r="5.5"/><circle cx="1202.4" cy="294.2" r="5.5"/><circle cx="1217.3" cy="300" r="5.5"/><circle cx="1229.2" cy="310.1" r="5.5"/><circle cx="1239.6" cy="312.4" r="5.5"/><circle cx="1245.5" cy="287" r="5.5"/><circle cx="1241.1" cy="294.8" r="5.5"/><circle cx="1251.5" cy="323.7" r="5.5"/><circle cx="1206.9" cy="335.2" r="5.5"/><circle cx="1221.7" cy="330.3" r="5.5"/><circle cx="1230.7" cy="333.2" r="5.5"/><circle cx="1230.7" cy="339" r="5.5"/></g>
<g class="t"><circle cx="1450" cy="215.6" r="5.5"/><circle cx="1476.2" cy="245.1" r="5.5"/><circle cx="1479.2" cy="242.2" r="5.5"/><circle cx="1494" cy="245.9" r="5.5"/><circle cx="1491.1" cy="256.6" r="5.5"/><circle cx="1504.5" cy="258.1" r="5.5"/><circle cx="1513.4" cy="256.6" r="5.5"/><circle cx="1506" cy="268.2" r="5.5"/><circle cx="1514.9" cy="272.5" r="5.5"/><circle cx="1508.9" cy="276.9" r="5.5"/><circle cx="1517.9" cy="271.1" r="5.5"/><circle cx="1503" cy="262.4" r="5.5"/><circle cx="1465.8" cy="319.6" r="5.5"/><circle cx="1473.2" cy="324" r="5.5"/><circle cx="1490.5" cy="330.9" r="5.5"/></g>
<circle class="k" cx="1507.4" cy="380" r="5.5"/>
<g class="m"><circle cx="1434.5" cy="355.5" r="5.5"/><circle cx="1430" cy="387.5" r="5.5"/><circle cx="1442.8" cy="410.4" r="5.5"/><circle cx="1400.3" cy="426.6" r="5.5"/><circle cx="1413.7" cy="437.2" r="5.5"/><circle cx="1427.1" cy="460.4" r="5.5"/><circle cx="1433" cy="454.6" r="5.5"/><circle cx="1453.9" cy="432.9" r="5.5"/><circle cx="1464.3" cy="443" r="5.5"/><circle cx="1479.2" cy="444.5" r="5.5"/><circle cx="1455.4" cy="435.8" r="5.5"/><circle cx="1494" cy="498.8" r="5.5"/>
<circle cx="1363.1" cy="453.1" r="5.5"/><circle cx="1371.4" cy="467.6" r="5.5"/><circle cx="1354.2" cy="480.6" r="5.5"/><circle cx="1361.6" cy="479.2" r="5.5"/><circle cx="1355.6" cy="490.7" r="5.5"/><circle cx="1367.6" cy="487.8" r="5.5"/><circle cx="1370.5" cy="496.5" r="5.5"/><circle cx="1369.1" cy="502.3" r="5.5"/><circle cx="1351.2" cy="484.9" r="5.5"/>
<circle cx="1220.2" cy="406.9" r="5.5"/><circle cx="1229.2" cy="406.9" r="5.5"/><circle cx="1235.1" cy="411.2" r="5.5"/><circle cx="1217.3" cy="425.7" r="5.5"/><circle cx="1226.2" cy="424.2" r="5.5"/><circle cx="1235.1" cy="425.7" r="5.5"/><circle cx="1247.2" cy="425.7" r="5.5"/><circle cx="1254.5" cy="430" r="5.5"/><circle cx="1261.9" cy="422.8" r="5.5"/><circle cx="1248.5" cy="451.7" r="5.5"/><circle cx="1253" cy="445.9" r="5.5"/><circle cx="1258.9" cy="444.5" r="5.5"/><circle cx="1270.8" cy="443" r="5.5"/><circle cx="1269.3" cy="456" r="5.5"/><circle cx="1258" cy="482.9" r="5.5"/><circle cx="1267.9" cy="458.9" r="5.5"/><circle cx="1282.7" cy="437.2" r="5.5"/><circle cx="1281.2" cy="444.5" r="5.5"/>
<circle cx="1288.7" cy="444.5" r="5.5"/><circle cx="1297.6" cy="440.1" r="5.5"/><circle cx="1300.6" cy="447.4" r="5.5"/><circle cx="1287.2" cy="457.5" r="5.5"/><circle cx="1294.6" cy="456" r="5.5"/><circle cx="1302.1" cy="457.5" r="5.5"/><circle cx="1287.2" cy="466.1" r="5.5"/><circle cx="1299.1" cy="464.7" r="5.5"/><circle cx="1311.9" cy="429.4" r="5.5"/><circle cx="1313.1" cy="442.4" r="5.5"/><circle cx="1303.6" cy="478.6" r="5.5"/></g>
</g>
<g id="tree-E-foldmason">
<g class="a"><circle cx="271.7" cy="598.1" r="5.5"/><circle cx="378.7" cy="619.4" r="5.5"/><circle cx="387" cy="624.1" r="5.5"/><circle cx="391.2" cy="628.9" r="5.5"/><circle cx="380.1" cy="633.7" r="5.5"/><circle cx="384.3" cy="638.4" r="5.5"/><circle cx="378.7" cy="643.2" r="5.5"/><circle cx="387" cy="646.4" r="5.5"/><circle cx="394" cy="627.3" r="5.5"/><circle cx="349.5" cy="652.7" r="5.5"/><circle cx="355.1" cy="649.5" r="5.5"/><circle cx="359.3" cy="654.3" r="5.5"/><circle cx="366.2" cy="655.9" r="5.5"/><circle cx="349.5" cy="660.6" r="5.5"/></g>
<g class="t"><circle cx="324.5" cy="665.4" r="5.5"/><circle cx="339.8" cy="694" r="5.5"/><circle cx="349" cy="695.6" r="5.5"/><circle cx="360.6" cy="708.3" r="5.5"/></g>
<circle class="d" cx="336.2" cy="667" r="5.5"/>
<g class="a"><circle cx="537" cy="571.7" r="5.5"/><circle cx="455.1" cy="609.2" r="5.5"/><circle cx="452.3" cy="627.3" r="5.5"/><circle cx="446.8" cy="679.7" r="5.5"/><circle cx="452.3" cy="667" r="5.5"/><circle cx="453.7" cy="652.7" r="5.5"/><circle cx="460.6" cy="644.8" r="5.5"/><circle cx="464.8" cy="651.1" r="5.5"/><circle cx="463.4" cy="657.5" r="5.5"/><circle cx="471.8" cy="668.6" r="5.5"/><circle cx="480.1" cy="657.5" r="5.5"/><circle cx="485.6" cy="646.4" r="5.5"/><circle cx="481.5" cy="674.9" r="5.5"/><circle cx="466.2" cy="674.9" r="5.5"/><circle cx="478.7" cy="668.6" r="5.5"/><circle cx="494" cy="662.2" r="5.5"/><circle cx="500.9" cy="652.7" r="5.5"/><circle cx="510.7" cy="647.9" r="5.5"/><circle cx="516.2" cy="646.4" r="5.5"/><circle cx="514.8" cy="660.6" r="5.5"/><circle cx="520.4" cy="660.6" r="5.5"/><circle cx="507.9" cy="668.6" r="5.5"/><circle cx="499.5" cy="670.2" r="5.5"/><circle cx="484.3" cy="721.9" r="5.5"/></g>
<g class="u"><circle cx="619" cy="537.8" r="5.5"/><circle cx="560.7" cy="694" r="5.5"/><circle cx="580.1" cy="684.5" r="5.5"/><circle cx="588.4" cy="676.5" r="5.5"/><circle cx="591.2" cy="686" r="5.5"/><circle cx="598.2" cy="682.9" r="5.5"/><circle cx="606.5" cy="681.3" r="5.5"/><circle cx="602.3" cy="684.5" r="5.5"/><circle cx="594" cy="687.6" r="5.5"/></g>
<g class="g"><circle cx="231.5" cy="705.1" r="5.5"/><circle cx="309.2" cy="727.3" r="5.5"/><circle cx="327.3" cy="721.6" r="5.5"/><circle cx="337" cy="748" r="5.5"/><circle cx="349.5" cy="741" r="5.5"/><circle cx="324.5" cy="757.5" r="5.5"/><circle cx="353.7" cy="776.5" r="5.5"/><circle cx="367.6" cy="786.7" r="5.5"/><circle cx="349.5" cy="792.4" r="5.5"/><circle cx="353.7" cy="795.6" r="5.5"/>
<circle cx="309.2" cy="836.9" r="5.5"/><circle cx="316.2" cy="840" r="5.5"/><circle cx="324.5" cy="843.2" r="5.5"/><circle cx="305.1" cy="848" r="5.5"/><circle cx="313.4" cy="849.6" r="5.5"/><circle cx="307.9" cy="854.3" r="5.5"/><circle cx="334.2" cy="851.1" r="5.5"/><circle cx="316.2" cy="868.6" r="5.5"/><circle cx="321.8" cy="871.8" r="5.5"/><circle cx="319" cy="875" r="5.5"/><circle cx="348.1" cy="871.1" r="5.5"/><circle cx="341.2" cy="887.7" r="5.5"/><circle cx="342.6" cy="884.5" r="5.5"/><circle cx="378.7" cy="888.6" r="5.5"/></g>
<g class="d"><circle cx="391.2" cy="894" r="5.5"/><circle cx="464.8" cy="879.7" r="5.5"/><circle cx="475.9" cy="881.3" r="5.5"/><circle cx="475.9" cy="898.1" r="5.5"/><circle cx="456.5" cy="925.8" r="5.5"/><circle cx="455.1" cy="935.3" r="5.5"/><circle cx="453.7" cy="938.5" r="5.5"/><circle cx="452.3" cy="976.6" r="5.5"/><circle cx="452.3" cy="986.1" r="5.5"/><circle cx="452.3" cy="995.6" r="5.5"/>
<circle cx="496.8" cy="913" r="5.5"/><circle cx="502.3" cy="917.8" r="5.5"/><circle cx="507.9" cy="921" r="5.5"/><circle cx="494" cy="925.8" r="5.5"/><circle cx="500.9" cy="925.8" r="5.5"/><circle cx="507.9" cy="928.9" r="5.5"/><circle cx="485.6" cy="935.3" r="5.5"/><circle cx="491.2" cy="938.5" r="5.5"/><circle cx="481.5" cy="941.6" r="5.5"/><circle cx="488.6" cy="944.8" r="5.5"/><circle cx="499.5" cy="948" r="5.5"/><circle cx="505" cy="954.3" r="5.5"/><circle cx="496.8" cy="935.3" r="5.5"/>
<circle cx="413.4" cy="917.8" r="5.5"/><circle cx="419" cy="919.4" r="5.5"/><circle cx="424.5" cy="917.8" r="5.5"/><circle cx="427.3" cy="927.3" r="5.5"/><circle cx="423.2" cy="935.3" r="5.5"/><circle cx="424.5" cy="938.5" r="5.5"/><circle cx="416.2" cy="925.8" r="5.5"/></g>
<g class="g"><circle cx="421.8" cy="921" r="5.5"/><circle cx="448.1" cy="967" r="5.5"/></g>
</g>
<g id="tree-E1-foldmason">
<g class="t"><circle cx="694.9" cy="496" r="5.5"/><circle cx="805.4" cy="647.5" r="5.5"/><circle cx="810.6" cy="650.9" r="5.5"/><circle cx="813.2" cy="655.9" r="5.5"/><circle cx="819.7" cy="666" r="5.5"/><circle cx="824.8" cy="669.4" r="5.5"/><circle cx="793.8" cy="677.8" r="5.5"/><circle cx="797.7" cy="681.2" r="5.5"/><circle cx="802.9" cy="682.8" r="5.5"/><circle cx="808" cy="687.9" r="5.5"/><circle cx="810.6" cy="677.1" r="5.5"/><circle cx="815.8" cy="679.5" r="5.5"/><circle cx="837.7" cy="682.8" r="5.5"/><circle cx="855.8" cy="691.3" r="5.5"/><circle cx="873.9" cy="698" r="5.5"/></g>
<circle class="k" cx="925.6" cy="767" r="5.5"/>
<g class="m"><circle cx="938.5" cy="731.7" r="5.5"/><circle cx="939.8" cy="735" r="5.5"/><circle cx="938.5" cy="741.8" r="5.5"/><circle cx="941.1" cy="750.2" r="5.5"/><circle cx="945" cy="768" r="5.5"/></g>
<g class="p"><circle cx="992.8" cy="741.8" r="5.5"/><circle cx="996.7" cy="738.4" r="5.5"/><circle cx="1004.4" cy="743.4" r="5.5"/><circle cx="1010.9" cy="738.4" r="5.5"/><circle cx="1017.3" cy="733.3" r="5.5"/><circle cx="1019.9" cy="755.2" r="5.5"/><circle cx="1007" cy="760.3" r="5.5"/><circle cx="1009.6" cy="765.3" r="5.5"/><circle cx="1013.5" cy="772.1" r="5.5"/><circle cx="1018.6" cy="780.5" r="5.5"/><circle cx="1032.8" cy="799" r="5.5"/><circle cx="1040.6" cy="797.3" r="5.5"/><circle cx="1047.1" cy="799" r="5.5"/><circle cx="1035.4" cy="807.4" r="5.5"/><circle cx="1025.1" cy="815.8" r="5.5"/><circle cx="1031.5" cy="822.6" r="5.5"/><circle cx="1022.5" cy="820.9" r="5.5"/><circle cx="1041.9" cy="829.3" r="5.5"/><circle cx="1016" cy="847.8" r="5.5"/><circle cx="1025.1" cy="849.5" r="5.5"/></g>
<g class="m"><circle cx="1019.9" cy="861.3" r="5.5"/><circle cx="978.6" cy="893.3" r="5.5"/><circle cx="985" cy="898.3" r="5.5"/><circle cx="992.8" cy="891.6" r="5.5"/><circle cx="998" cy="884.8" r="5.5"/><circle cx="1001.8" cy="893.3" r="5.5"/><circle cx="994.1" cy="898.3" r="5.5"/><circle cx="1001.8" cy="905.1" r="5.5"/><circle cx="1013.5" cy="898.3" r="5.5"/><circle cx="1026.4" cy="903.4" r="5.5"/>
<circle cx="964.4" cy="927" r="5.5"/><circle cx="970.8" cy="923.6" r="5.5"/><circle cx="978.6" cy="935.4" r="5.5"/><circle cx="985" cy="942.1" r="5.5"/><circle cx="991.5" cy="943.8" r="5.5"/><circle cx="987.7" cy="945.5" r="5.5"/>
<circle cx="959.2" cy="953.9" r="5.5"/><circle cx="959.2" cy="977.4" r="5.5"/><circle cx="964.4" cy="984.2" r="5.5"/><circle cx="963.1" cy="977.4" r="5.5"/><circle cx="929.5" cy="940.4" r="5.5"/><circle cx="941.1" cy="940.4" r="5.5"/><circle cx="942.4" cy="953.9" r="5.5"/><circle cx="943.7" cy="960.6" r="5.5"/><circle cx="933.4" cy="974.1" r="5.5"/><circle cx="930.8" cy="947.2" r="5.5"/><circle cx="939.8" cy="948.8" r="5.5"/>
<circle cx="866.2" cy="918.5" r="5.5"/><circle cx="872.6" cy="920.2" r="5.5"/><circle cx="864.9" cy="943.8" r="5.5"/><circle cx="873.9" cy="935.4" r="5.5"/><circle cx="877.8" cy="950.5" r="5.5"/><circle cx="883" cy="940.4" r="5.5"/><circle cx="886.9" cy="945.5" r="5.5"/><circle cx="885.6" cy="938.7" r="5.5"/><circle cx="895.9" cy="932" r="5.5"/><circle cx="906.2" cy="940.4" r="5.5"/>
<circle cx="819.7" cy="905.1" r="5.5"/><circle cx="836.5" cy="908.4" r="5.5"/><circle cx="841.6" cy="906.7" r="5.5"/><circle cx="845.5" cy="910.1" r="5.5"/><circle cx="852" cy="911.8" r="5.5"/><circle cx="839.1" cy="913.5" r="5.5"/><circle cx="833.9" cy="923.6" r="5.5"/><circle cx="841.6" cy="923.6" r="5.5"/><circle cx="849.4" cy="930.3" r="5.5"/><circle cx="854.5" cy="921.9" r="5.5"/><circle cx="855.8" cy="896.6" r="5.5"/></g>
</g>
<g id="tree-E2-foldmason">
<g class="p"><circle cx="1180.1" cy="600" r="5.5"/><circle cx="1190.1" cy="602.6" r="5.5"/><circle cx="1197.3" cy="600" r="5.5"/><circle cx="1198.7" cy="606.6" r="5.5"/><circle cx="1204.4" cy="610.6" r="5.5"/><circle cx="1208.7" cy="614.6" r="5.5"/><circle cx="1201.5" cy="621.3" r="5.5"/><circle cx="1208.7" cy="633.3" r="5.5"/><circle cx="1211.6" cy="638.6" r="5.5"/><circle cx="1214.4" cy="642.6" r="5.5"/><circle cx="1218.7" cy="654.6" r="5.5"/>
<circle cx="1265.8" cy="609.3" r="5.5"/><circle cx="1273" cy="613.3" r="5.5"/><circle cx="1263" cy="626.6" r="5.5"/><circle cx="1270.1" cy="629.3" r="5.5"/><circle cx="1274.4" cy="621.3" r="5.5"/><circle cx="1291.5" cy="626.6" r="5.5"/><circle cx="1293" cy="632" r="5.5"/><circle cx="1291.5" cy="640" r="5.5"/><circle cx="1301.5" cy="645.3" r="5.5"/><circle cx="1308.7" cy="622.6" r="5.5"/><circle cx="1308.7" cy="632" r="5.5"/><circle cx="1313" cy="645.3" r="5.5"/><circle cx="1315.8" cy="637.3" r="5.5"/><circle cx="1321.5" cy="633.3" r="5.5"/>
<circle cx="1231.5" cy="684" r="5.5"/><circle cx="1240.1" cy="681.3" r="5.5"/><circle cx="1237.2" cy="686.6" r="5.5"/><circle cx="1203" cy="688" r="5.5"/><circle cx="1223" cy="698.6" r="5.5"/><circle cx="1225.8" cy="705.3" r="5.5"/><circle cx="1215.8" cy="721.9" r="5.5"/></g>
<g class="t"><circle cx="1468.7" cy="612" r="5.5"/><circle cx="1465.8" cy="617.3" r="5.5"/><circle cx="1454.4" cy="630.6" r="5.5"/><circle cx="1467.2" cy="641.3" r="5.5"/><circle cx="1472.9" cy="637.3" r="5.5"/><circle cx="1481.5" cy="637.3" r="5.5"/><circle cx="1465.8" cy="649.3" r="5.5"/><circle cx="1470.1" cy="654.6" r="5.5"/><circle cx="1467.2" cy="662.6" r="5.5"/><circle cx="1472.9" cy="660" r="5.5"/><circle cx="1477.2" cy="673.3" r="5.5"/><circle cx="1482.9" cy="676" r="5.5"/><circle cx="1457.2" cy="709.3" r="5.5"/><circle cx="1468.7" cy="709.3" r="5.5"/><circle cx="1481.5" cy="709.3" r="5.5"/><circle cx="1461" cy="729.3" r="5.5"/></g>
<g class="m"><circle cx="1141.5" cy="772" r="5.5"/><circle cx="1147.3" cy="774.7" r="5.5"/><circle cx="1154.4" cy="776" r="5.5"/><circle cx="1158.7" cy="773.3" r="5.5"/><circle cx="1168.7" cy="776" r="5.5"/><circle cx="1181.5" cy="785.3" r="5.5"/><circle cx="1191.5" cy="782.6" r="5.5"/>
<circle cx="1133" cy="845.3" r="5.5"/><circle cx="1133" cy="858.6" r="5.5"/><circle cx="1165.8" cy="836" r="5.5"/><circle cx="1174.4" cy="840" r="5.5"/><circle cx="1187.3" cy="829.3" r="5.5"/><circle cx="1173" cy="844" r="5.5"/><circle cx="1195.8" cy="849.9" r="5.5"/>
<circle cx="1407.2" cy="806.7" r="5.5"/><circle cx="1411.5" cy="806.1" r="5.5"/><circle cx="1424.4" cy="818.7" r="5.5"/><circle cx="1430.1" cy="817.3" r="5.5"/><circle cx="1441.5" cy="821.3" r="5.5"/><circle cx="1454.4" cy="828" r="5.5"/><circle cx="1450.1" cy="836" r="5.5"/><circle cx="1465.8" cy="842.6" r="5.5"/><circle cx="1468.7" cy="849.3" r="5.5"/><circle cx="1477.2" cy="850.6" r="5.5"/><circle cx="1473" cy="836" r="5.5"/><circle cx="1510.1" cy="848" r="5.5"/><circle cx="1528.7" cy="845.3" r="5.5"/><circle cx="1427.3" cy="841.3" r="5.5"/>
<circle cx="1431.5" cy="861.3" r="5.5"/><circle cx="1437.2" cy="866.6" r="5.5"/><circle cx="1438.7" cy="873.3" r="5.5"/><circle cx="1458.7" cy="865.3" r="5.5"/><circle cx="1467.2" cy="878.6" r="5.5"/><circle cx="1482.9" cy="874.7" r="5.5"/><circle cx="1492.9" cy="881.3" r="5.5"/><circle cx="1498.7" cy="890.7" r="5.5"/><circle cx="1394.4" cy="868" r="5.5"/><circle cx="1401.5" cy="876" r="5.5"/>
<circle cx="1381.5" cy="888" r="5.5"/><circle cx="1385.8" cy="893.3" r="5.5"/><circle cx="1375.8" cy="901.3" r="5.5"/><circle cx="1377.2" cy="908" r="5.5"/><circle cx="1388.7" cy="910.6" r="5.5"/><circle cx="1403" cy="929.3" r="5.5"/><circle cx="1373" cy="917.3" r="5.5"/><circle cx="1368.7" cy="929.3" r="5.5"/><circle cx="1377.2" cy="932" r="5.5"/>
<circle cx="1344.4" cy="949.3" r="5.5"/><circle cx="1355.8" cy="956" r="5.5"/><circle cx="1345.8" cy="958.7" r="5.5"/><circle cx="1365.8" cy="968" r="5.5"/><circle cx="1350.1" cy="961.3" r="5.5"/><circle cx="1330.1" cy="964" r="5.5"/><circle cx="1324.4" cy="970.7" r="5.5"/><circle cx="1333" cy="969.3" r="5.5"/><circle cx="1341.5" cy="966.6" r="5.5"/><circle cx="1327.2" cy="977.3" r="5.5"/><circle cx="1325.8" cy="982.7" r="5.5"/>
<circle cx="1275.8" cy="950.7" r="5.5"/><circle cx="1284.4" cy="957.3" r="5.5"/><circle cx="1293" cy="934.7" r="5.5"/><circle cx="1287.2" cy="942.7" r="5.5"/><circle cx="1294.4" cy="948" r="5.5"/><circle cx="1307.2" cy="934.7" r="5.5"/><circle cx="1311.5" cy="938.6" r="5.5"/><circle cx="1308.7" cy="942.7" r="5.5"/></g>
<circle class="k" cx="1152.1" cy="889.3" r="5.5"/>
</g>
<g id="scores">
<text class="num" x="418" y="552">QS=0.90</text><text class="num" x="418" y="586">RF=0.54</text>
<text class="num" x="919" y="552">QS=0.90</text><text class="num" x="919" y="586">RF=0.21</text>
<text class="num" x="1344" y="552">QS=0.89</text><text class="num" x="1344" y="586">RF=0.33</text>
</g>
<g id="scalebars">
<text class="sc" x="262" y="456">0.5</text><line class="bar" x1="226" y1="477" x2="297.5" y2="477"/>
<text class="sc" x="715" y="456">0.5</text><line class="bar" x1="701" y1="477" x2="728.5" y2="477"/>
<text class="sc" x="1153" y="456">0.5</text><line class="bar" x1="1139" y1="477" x2="1167.5" y2="477"/>
<text class="sc" x="262" y="940">0.5</text><line class="bar" x1="247.3" y1="961" x2="276.8" y2="961"/>
<text class="sc" x="715" y="940">0.5</text><line class="bar" x1="700" y1="961" x2="730" y2="961"/>
<text class="sc" x="1153" y="940">0.5</text><line class="bar" x1="1132" y1="961" x2="1173" y2="961"/>
</g>
</g>
</svg>
